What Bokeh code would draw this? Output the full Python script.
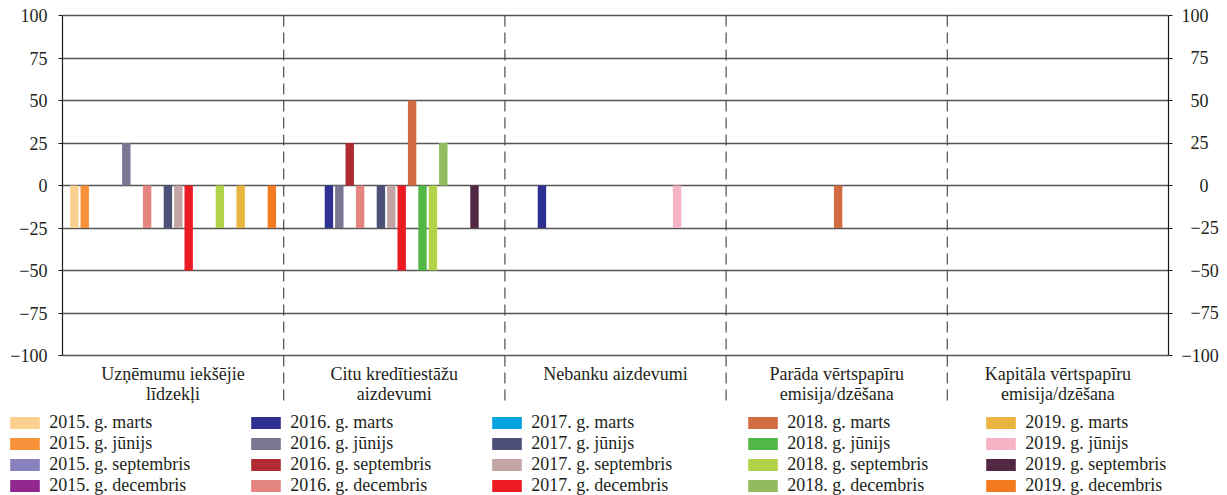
from bokeh.plotting import figure
from bokeh.layouts import column
from bokeh.models import Range1d, FixedTicker, LinearAxis, Legend, LegendItem
from bokeh.core.properties import value
from bokeh.embed import file_html
from bokeh.resources import INLINE

# ---------------- data ----------------
categories = [
    "Uzņēmumu iekšējie\nlīdzekļi",
    "Citu kredītiestāžu\naizdevumi",
    "Nebanku aizdevumi",
    "Parāda vērtspapīru\nemisija/dzēšana",
    "Kapitāla vērtspapīru\nemisija/dzēšana",
]

years = ["2015", "2016", "2017", "2018", "2019"]
months = ["marts", "jūnijs", "septembris", "decembris"]
series_labels = [f"{y}. g. {m}" for y in years for m in months]

series_colors = [
    "#FCD08F", "#F7923A", "#8781BD", "#92278F",
    "#2E3192", "#7B7592", "#B02A33", "#E5857F",
    "#00A3E0", "#4D5077", "#C4A5A6", "#ED1C24",
    "#D26D43", "#53B746", "#B1D348", "#91BB5D",
    "#E9B43F", "#F5B3C5", "#522743", "#F47A20",
]

# values per category, in series order (2015 marts ... 2019 decembris)
uznemumu_ieksejie = [-25, -25, 0, 0, 0, 25, 0, -25, 0, -25, -25, -50, 0, 0, -25, 0, -25, 0, 0, -25]
citu_kreditiestazu = [0, 0, 0, 0, -25, -25, 25, -25, 0, -25, -25, -50, 50, -50, -50, 25, 0, 0, -25, 0]
nebanku = [0, 0, 0, 0, -25, 0, 0, 0, 0, 0, 0, 0, 0, 0, 0, 0, 0, -25, 0, 0]
parada_vertspapiri = [0, 0, 0, 0, 0, 0, 0, 0, 0, 0, 0, 0, -25, 0, 0, 0, 0, 0, 0, 0]
kapitala_vertspapiri = [0, 0, 0, 0, 0, 0, 0, 0, 0, 0, 0, 0, 0, 0, 0, 0, 0, 0, 0, 0]
category_values = [uznemumu_ieksejie, citu_kreditiestazu, nebanku,
                   parada_vertspapiri, kapitala_vertspapiri]

y_ticks = [-100, -75, -50, -25, 0, 25, 50, 75, 100]

# ---------------- layout / style ----------------
FONT = "Liberation Serif"
FS = "18px"
TXT = "#231F20"
W = 1227
H_MAIN, H_LEG = 405, 90
PX_Y = 1.7                     # pixels per y unit
Y_TOP = 100 + 15 / PX_Y
Y_BOT = Y_TOP - H_MAIN / PX_Y
GROUP_START = 0.5
GROUP_PITCH = 0.963
SLOT = 0.047
BAR_W = 0.038
N = len(series_labels)

p = figure(width=W, height=H_MAIN,
           x_range=Range1d(0, len(categories)), y_range=Range1d(Y_BOT, Y_TOP),
           output_backend="svg", toolbar_location=None,
           x_axis_location=None, y_axis_location="left",
           min_border_left=62, min_border_right=59, min_border_top=0, min_border_bottom=0,
           outline_line_color=None, background_fill_color="white", frame_align=False)

ticker = FixedTicker(ticks=y_ticks)
minus = {t: ("\u2212" + str(abs(t))) for t in y_ticks if t < 0}

right_axis = LinearAxis()
p.add_layout(right_axis, "right")

for ax in (p.yaxis[0], right_axis):
    ax.ticker = ticker
    ax.bounds = (-100, 100)
    ax.axis_line_color = "#1a1a1a"
    ax.axis_line_width = 1.2
    ax.major_tick_line_color = "#1a1a1a"
    ax.major_tick_in = 0
    ax.major_tick_out = 4
    ax.minor_tick_line_color = None
    ax.major_label_text_font = FONT
    ax.major_label_text_font_size = FS
    ax.major_label_text_color = TXT

p.yaxis[0].major_label_overrides = minus
p.yaxis[0].major_label_standoff = 11

# right axis labels: pad with figure spaces so they look right-aligned
fsp = "\u2007"
right_over = {}
for t in y_ticks:
    s = minus.get(t, str(t))
    digits = len(s.replace("\u2212", ""))
    right_over[t] = fsp * (3 - digits) + s
right_axis.major_label_overrides = right_over
right_axis.major_label_standoff = 9

p.xgrid.visible = False
p.ygrid.ticker = ticker
p.ygrid.grid_line_color = "#555555"
p.ygrid.grid_line_width = 1.4

# dashed category separators
sep_x = list(range(1, len(categories)))
p.segment(x0=sep_x, y0=[100] * len(sep_x), x1=sep_x, y1=[-100 - 45 / PX_Y] * len(sep_x),
          line_color="#4d4d4d", line_width=1.2, line_dash="11 6")

# bars
for i, (lab, col) in enumerate(zip(series_labels, series_colors)):
    xs = [GROUP_START + k * GROUP_PITCH + (i - (N - 1) / 2) * SLOT for k in range(len(categories))]
    tops = [category_values[k][i] for k in range(len(categories))]
    p.vbar(x=xs, top=tops, bottom=0, width=BAR_W, fill_color=col, line_color=None)

# category labels
p.text(x=[k + 0.5 for k in range(len(categories))], y=[-100 - 8.5 / PX_Y] * len(categories),
       text=categories, text_align="center", text_baseline="top",
       text_font=value(FONT), text_font_size=value(FS), text_color=TXT, text_line_height=1.0)

# ---------------- legend strip ----------------
pl = figure(width=W, height=H_LEG, x_range=Range1d(0, 1), y_range=Range1d(0, 1),
            output_backend="svg", toolbar_location=None,
            x_axis_location=None, y_axis_location=None,
            min_border_left=0, min_border_right=0, min_border_top=0, min_border_bottom=0,
            outline_line_color=None, background_fill_color="white", frame_align=False)
pl.xgrid.visible = False
pl.ygrid.visible = False

# zero-height proxy bars (invisible) that carry each series' legend swatch
leg_renderers = [pl.vbar(x=[0], top=[0], bottom=0, width=0.01, fill_color=col, line_color=None)
                 for col in series_colors]

leg_x = [6.25, 247.25, 488.25, 744.25, 982.25]
for c in range(5):
    items = [LegendItem(label=series_labels[c * 4 + j], renderers=[leg_renderers[c * 4 + j]])
             for j in range(4)]
    lg = Legend(items=items, location=(leg_x[c], -0.5), orientation="vertical",
                glyph_width=37, glyph_height=15, label_standoff=6,
                label_height=20, spacing=0, padding=0, margin=0,
                border_line_color=None, background_fill_alpha=0,
                label_text_font=FONT, label_text_font_size=FS, label_text_color=TXT)
    pl.add_layout(lg)

layout = column(p, pl, spacing=0)
open("out.html", "w").write(file_html(layout, INLINE))
